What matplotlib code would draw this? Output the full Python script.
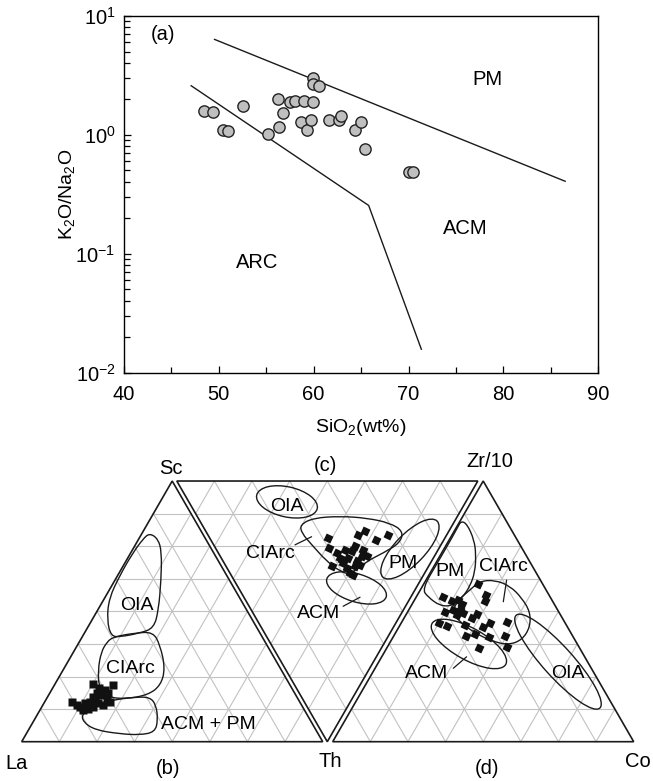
import numpy as np
import matplotlib
matplotlib.use("Agg")
import matplotlib.pyplot as plt
from matplotlib.path import Path
from matplotlib.patches import PathPatch, Ellipse, Polygon

plt.rcParams['font.family'] = ['Liberation Sans', 'DejaVu Sans']
plt.rcParams['mathtext.fontset'] = 'custom'
plt.rcParams['mathtext.rm'] = 'Liberation Sans'
plt.rcParams['mathtext.it'] = 'Liberation Sans:italic'

'''
Data (a): SiO2 vs K2O/Na2O
'''
sio2 = [48.4, 49.45, 50.5, 50.97, 52.6, 55.2, 56.2, 56.3, 56.8, 57.5, 58.0, 58.95, 59.96,
        58.7, 59.3, 59.7, 59.9, 59.9, 60.6, 61.6, 62.7, 62.9, 64.4, 65.0, 65.4, 70.1, 70.5]
k2o_na2o = [1.57, 1.54, 1.10, 1.08, 1.73, 1.01, 2.00, 1.17, 1.52, 1.88, 1.93, 1.93, 1.90,
            1.27, 1.10, 1.33, 2.99, 2.66, 2.58, 1.32, 1.32, 1.45, 1.09, 1.27, 0.765, 0.49, 0.49]

# field boundaries (a)
upper_x = [49.56, 86.5]
upper_y = [6.33, 0.406]
lower_x = [47.1, 65.8, 71.35]
lower_y = [2.58, 0.254, 0.0157]

'''
Data (b): La - Th - Sc  (percent)
'''
b_samples = [(75.7, 8.9, 15.3), (74.7, 11.2, 14.1), (73.9, 12.7, 13.4), (73.5, 14.4, 12.2),
             (71.7, 14.9, 13.4), (71.5, 13.6, 14.8), (69.6, 15.0, 15.3), (67.6, 15.2, 17.1),
             (65.8, 15.6, 18.6), (65.2, 12.8, 22.0), (64.0, 15.5, 20.5), (64.5, 17.6, 17.9),
             (63.4, 19.9, 16.6), (63.0, 21.7, 15.3), (61.9, 19.5, 18.6), (58.6, 19.5, 21.9),
             (67.2, 18.1, 14.7), (69.5, 17.1, 13.4), (65.9, 20.1, 14.1), (71.5, 15.8, 12.7),
             (67.6, 16.4, 16.0), (62.4, 17.8, 19.8)]
b_oia = [(17.5, 2.5, 80.0), (15.8, 6.4, 77.8), (17.1, 10.1, 72.8), (22.7, 15.3, 62.0),
         (29.3, 20.2, 50.5), (34.3, 22.1, 43.6), (39.8, 18.5, 41.7), (47.2, 12.6, 40.2),
         (50.1, 9.4, 40.5), (48.3, 5.0, 46.7), (43.5, 1.5, 55.0), (35.3, 0.7, 64.0),
         (27.3, 0.7, 72.0), (20.8, 1.4, 77.8)]
b_ciarc = [(49.5, 10.3, 40.2), (41.5, 16.8, 41.7), (35.3, 22.6, 42.1), (35.5, 27.4, 37.1),
           (38.2, 33.5, 28.3), (42.9, 35.4, 21.7), (49.1, 33.0, 17.9), (57.5, 26.1, 16.4),
           (62.8, 20.1, 17.1), (64.0, 15.4, 20.6), (60.9, 11.6, 27.5), (56.4, 9.2, 34.4),
           (52.6, 9.2, 38.2)]
b_acmpm = [(61.7, 22.3, 16.0), (53.8, 29.1, 17.1), (48.9, 34.0, 17.1), (48.3, 37.6, 14.1),
           (50.6, 41.1, 8.3), (53.9, 42.4, 3.7), (59.4, 38.0, 2.6), (65.8, 31.2, 3.0),
           (73.4, 22.1, 4.5), (75.8, 16.6, 7.6), (74.7, 14.7, 10.6), (70.2, 16.9, 12.9),
           (65.6, 19.6, 14.8)]

'''
Data (c): Sc - Zr/10 - Th  (percent)
'''
c_samples = [(38.7, 39.4, 21.9), (36.5, 37.8, 25.7), (32.2, 35.1, 32.7), (33.1, 39.3, 27.6),
             (31.0, 39.5, 29.5), (29.0, 39.6, 31.4), (26.9, 39.8, 33.4), (24.8, 39.9, 35.3),
             (23.3, 40.6, 36.1), (28.4, 44.6, 27.0), (28.3, 46.7, 25.0), (29.4, 50.0, 20.6),
             (27.8, 52.9, 19.3), (24.9, 48.8, 26.3), (24.1, 47.0, 28.9), (22.5, 48.6, 28.9),
             (24.8, 44.4, 30.8), (28.3, 42.2, 29.5), (22.6, 54.9, 22.5), (19.3, 59.8, 20.8),
             (24.4, 42.8, 32.7), (23.1, 44.8, 32.1), (30.9, 42.6, 26.5), (30.1, 39.6, 30.3)]
c_ciarc = [(50.7, 32.6, 16.8), (47.6, 38.3, 14.2), (39.0, 47.5, 13.5), (29.8, 56.0, 14.2),
           (21.1, 62.8, 16.1), (15.1, 65.6, 19.3), (14.0, 62.3, 23.8), (17.6, 54.8, 27.6),
           (21.5, 47.7, 30.8), (24.5, 39.6, 35.9), (28.5, 36.9, 34.6), (34.8, 34.4, 30.8),
           (43.0, 32.6, 24.4), (48.5, 31.5, 20.0)]
# ellipse fields: centre (ternary), width, height (triangle side = 1), angle
c_oia = [(59.4, 32.6, 8.0), 0.206, 0.100, -12.5]
c_pm = [(9.5, 64.4, 26.1), 0.259, 0.100, 46]
c_acm = [(19.8, 39.2, 41.0), 0.206, 0.093, -17]

'''
Data (d): Th - Co - Zr/10  (percent)
'''
d_samples = [(21.4, 18.2, 60.4), (20.9, 22.8, 56.3), (22.4, 23.6, 54.1), (35.8, 8.9, 55.4),
             (33.5, 12.6, 54.0), (31.1, 14.6, 54.4), (30.7, 16.5, 52.8), (37.8, 12.4, 49.9),
             (34.7, 14.8, 50.5), (34.5, 16.9, 48.6), (32.0, 18.8, 49.3), (41.9, 12.7, 45.4),
             (39.7, 15.9, 44.4), (33.7, 21.6, 44.8), (30.2, 22.5, 47.3), (27.5, 23.6, 49.0),
             (35.4, 24.0, 40.5), (32.1, 26.6, 41.3), (28.0, 28.1, 43.9), (25.0, 29.6, 45.4),
             (27.8, 31.9, 40.3), (19.2, 34.8, 46.0), (22.5, 37.0, 40.5), (24.1, 39.7, 36.2),
             (33.4, 30.8, 35.8), (32.4, 17.0, 50.5)]
d_pm = [(15.0, 0.3, 84.7), (13.6, 2.9, 83.5), (14.3, 8.3, 77.4), (16.6, 11.8, 71.6),
        (20.2, 14.7, 65.1), (24.5, 15.8, 59.7), (29.5, 15.4, 55.1), (34.3, 13.6, 52.1),
        (38.3, 9.6, 52.1), (40.6, 3.9, 55.5), (41.0, 0.4, 58.6), (30.2, 0.5, 69.3),
        (22.1, 0.5, 77.4), (17.6, 0.4, 82.0)]
d_ciarc = [(25.3, 16.5, 58.2), (20.3, 18.1, 61.6), (15.1, 22.9, 62.0), (11.2, 29.1, 59.7),
           (9.6, 35.3, 55.1), (9.5, 40.7, 49.8), (12.4, 43.6, 44.0), (17.6, 43.4, 39.0),
           (23.2, 39.7, 37.1), (27.8, 33.6, 38.6), (31.9, 26.4, 41.7), (34.8, 19.3, 45.9),
           (35.4, 14.8, 49.8), (31.1, 14.5, 54.4)]
d_oia = [(9.8, 59.5, 30.7), 0.415, 0.100, -48]
d_acm = [(36.0, 26.5, 37.5), 0.280, 0.106, -29]


def tern(verts, comp):
    comp = np.asarray(comp, float)
    comp = comp / comp.sum(axis=-1, keepdims=True)
    return comp @ verts


def smooth_closed(pts):
    n = len(pts)
    mids = (pts + np.roll(pts, -1, axis=0)) / 2
    verts = [mids[-1]]
    codes = [Path.MOVETO]
    for i in range(n):
        verts += [pts[i], mids[i]]
        codes += [Path.CURVE3, Path.CURVE3]
    return Path(verts, codes)


def draw_triangle(ax, V, n=8):
    for k in range(1, n):
        t = k / n
        for i in range(3):
            A, B, C = V[i], V[(i + 1) % 3], V[(i + 2) % 3]
            p = A + t * (B - A)
            q = A + t * (C - A)
            ax.plot([p[0], q[0]], [p[1], q[1]], color='#c2c2c2', lw=0.8, zorder=1)
    ax.add_patch(Polygon(V, closed=True, fill=False, ec='#1a1a1a', lw=1.2, zorder=2))


def draw_field(ax, V, pts):
    ax.add_patch(PathPatch(smooth_closed(tern(V, pts)), fill=False, ec='#1a1a1a', lw=1.0, zorder=3))


def draw_ellipse(ax, V, spec):
    centre, w, h, ang = spec
    ax.add_patch(Ellipse(tern(V, centre), w, h, angle=ang, fill=False, ec='#1a1a1a', lw=1.0, zorder=3))


fig = plt.figure(figsize=(6.53, 7.81), dpi=100)

'''
Panel (a)
'''
ax = fig.add_axes([0.1896, 0.5230, 0.7267, 0.4568])
ax.set_yscale('log')
ax.set_xlim(40, 90)
ax.set_ylim(0.01, 10)
ax.plot(upper_x, upper_y, color='#1a1a1a', lw=1.0)
ax.plot(lower_x, lower_y, color='#1a1a1a', lw=1.0)
ax.scatter(sio2, k2o_na2o, s=66, c='#bfbfbf', edgecolors='#222222', linewidths=1.0, zorder=3)
ax.set_xticks(np.arange(40, 91, 10))
ax.set_xticks(np.arange(45, 90, 10), minor=True)
ax.tick_params(which='both', direction='in', top=False, right=False, labelsize=14.5)
ax.tick_params(which='major', length=5, width=0.9)
ax.tick_params(which='minor', length=4, width=0.9)
ax.tick_params(axis='x', pad=9)
ax.tick_params(axis='y', pad=6)
for s in ax.spines.values():
    s.set_linewidth(1.0)
ax.set_xlabel(r'SiO$_\mathregular{2}$(wt%)', fontsize=14)
ax.set_ylabel(r'K$_\mathregular{2}$O/Na$_\mathregular{2}$O', fontsize=14)
ax.xaxis.set_label_coords(0.5, -0.125)
ax.yaxis.set_label_coords(-0.098, 0.5)
ax.text(44.1, 6.9, '(a)', fontsize=14.5, ha='center', va='center')
ax.text(78.3, 2.93, 'PM', fontsize=14.5, ha='center', va='center')
ax.text(76.0, 0.163, 'ACM', fontsize=14.5, ha='center', va='center')
ax.text(54.0, 0.0845, 'ARC', fontsize=14.5, ha='center', va='center')

'''
Panels (b), (c), (d)
'''
bx = fig.add_axes([0, 0, 1, 341 / 781])
bx.set_xlim(-21.7 / 301, 631.3 / 301)
bx.set_ylim(-39.3 / 301, 301.7 / 301)
bx.axis('off')

SQ = np.sqrt(3) / 2
g = 0.0153
h = 1.0332
tri_b = np.array([[0, 0], [1, 0], [0.5, SQ]])            # La, Th, Sc
tri_c = np.array([[0.5 + g, SQ], [1.5 + g, SQ], [1 + g, 0]])  # Sc, Zr/10, Th
tri_d = np.array([[h, 0], [h + 1, 0], [h + 0.5, SQ]])    # Th, Co, Zr/10

for V in (tri_b, tri_c, tri_d):
    draw_triangle(bx, V)

draw_field(bx, tri_b, b_oia)
draw_field(bx, tri_b, b_ciarc)
draw_field(bx, tri_b, b_acmpm)
draw_field(bx, tri_c, c_ciarc)
draw_ellipse(bx, tri_c, c_oia)
draw_ellipse(bx, tri_c, c_pm)
draw_ellipse(bx, tri_c, c_acm)
draw_field(bx, tri_d, d_pm)
draw_field(bx, tri_d, d_ciarc)
draw_ellipse(bx, tri_d, d_oia)
draw_ellipse(bx, tri_d, d_acm)

pb = tern(tri_b, b_samples)
bx.plot(pb[:, 0], pb[:, 1], 's', ms=5.4, color='#111111', mec='none', zorder=4)
pc = tern(tri_c, c_samples)
bx.plot(pc[:, 0], pc[:, 1], marker=(4, 0, 20), ls='none', ms=7.6, color='#111111', mec='none', zorder=4)
pd_ = tern(tri_d, d_samples)
bx.plot(pd_[:, 0], pd_[:, 1], marker=(4, 0, 20), ls='none', ms=7.6, color='#111111', mec='none', zorder=4)

fs = 14.5
for txt, x, y in [('Sc', 0.495, 0.908), ('La', -0.017, -0.072), ('(b)', 0.487, -0.088),
                  ('Th', 1.024, -0.066), ('(c)', 1.008, 0.919), ('Zr/10', 1.556, 0.930),
                  ('(d)', 1.545, -0.088)]:
    bx.text(x, y, txt, fontsize=fs, ha='center', va='center')
bx.text(2.090, -0.066, 'Co', fontsize=fs, ha='right', va='center')

fl = 14
for txt, x, y in [('OIA', 0.382, 0.454), ('CIArc', 0.360, 0.244), ('ACM + PM', 0.620, 0.0555),
                  ('OIA', 0.880, 0.781), ('CIArc', 0.825, 0.626), ('ACM', 0.985, 0.4266),
                  ('PM', 1.268, 0.5914), ('PM', 1.423, 0.5648), ('CIArc', 1.600, 0.5814),
                  ('ACM', 1.3455, 0.2272), ('OIA', 1.816, 0.2272)]:
    bx.text(x, y, txt, fontsize=fl, ha='center', va='center', zorder=5)

# leader lines
for p, q in [((0.908, 0.654), (0.963, 0.681)), ((1.068, 0.450), (1.124, 0.480)),
             ((1.611, 0.537), (1.600, 0.465)), ((1.434, 0.244), (1.478, 0.282))]:
    bx.annotate('', xy=q, xytext=p, arrowprops=dict(arrowstyle='-', lw=0.9, color='#1a1a1a',
                                                     shrinkA=0, shrinkB=0))

fig.savefig('out.png', dpi=100)
